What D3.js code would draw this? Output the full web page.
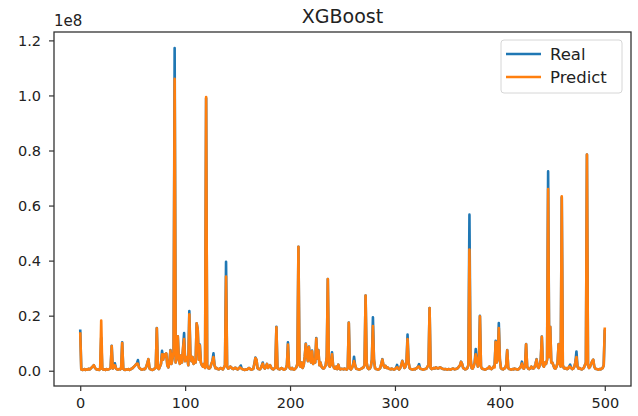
<!DOCTYPE html>
<html>
<head>
<meta charset="utf-8">
<script src="https://cdn.jsdelivr.net/npm/d3@7"></script>
<style>
  body { margin: 0; background: #fff; }
  text { font-family: "DejaVu Sans", sans-serif; fill: #222; }
</style>
</head>
<body>
<div id="chart"></div>
<script>
// values in units of 1e6, one per sample index 0..500
var real = [
  15, 0.5, 0.3, 0.4, 0.6, 0.3, 0.5, 0.4, 0.7, 0.5,
  0.8, 1.2, 1.6, 2.0, 1.1, 0.6, 0.4, 0.5, 0.3, 0.6,
  12, 0.8, 0.4, 0.5, 0.3, 0.6, 0.4, 0.5, 0.7, 1.0,
  9.1, 0.8, 1.5, 2.7, 0.9, 0.5, 0.4, 0.6, 0.5, 0.8,
  10.3, 0.7, 0.4, 0.3, 0.5, 0.4, 0.6, 0.3, 0.5, 0.8,
  1.0, 1.4, 1.8, 2.2, 2.6, 3.9, 1.2, 0.8, 0.5, 0.4,
  0.6, 0.5, 0.7, 1.5, 2.8, 4.2, 0.9, 0.5, 0.4, 0.3,
  0.5, 0.8, 1.2, 15.5, 1.0, 0.6, 1.5, 2.5, 7.2, 4.0,
  6.0, 5.2, 6.3, 2.0, 1.2, 3.0, 7.5, 2.5, 4.5, 7.0,
  117.2, 3.0, 6.0, 12.5, 4.0, 2.5, 5.5, 3.0, 8.0, 13.7,
  3.5, 4.5, 5.0, 2.0, 21.7, 6.0, 3.5, 5.0, 2.5, 4.0,
  3.0, 17.2, 15.0, 4.0, 9.5, 3.0, 2.0, 1.5, 2.5, 1.0,
  99.0, 2.0, 1.0, 0.8, 1.2, 2.5, 3.5, 6.3, 2.0, 0.9,
  1.0, 0.6, 0.5, 0.8, 1.0, 0.7, 0.5, 1.2, 2.0, 39.6,
  1.5, 0.8, 1.0, 1.5, 1.2, 0.8, 0.6, 0.9, 1.1, 0.7,
  0.5, 0.8, 1.2, 1.9, 0.7, 0.5, 0.4, 0.3, 0.5, 0.4,
  0.8, 1.0, 0.6, 0.4, 0.5, 0.7, 2.5, 4.8, 4.0, 1.0,
  0.6, 0.5, 0.8, 1.8, 3.0, 1.2, 0.8, 1.5, 2.5, 1.0,
  1.5, 2.0, 1.2, 0.6, 0.5, 0.8, 1.2, 16.0, 1.0, 0.6,
  0.5, 0.8, 1.0, 0.7, 0.4, 0.5, 0.8, 2.0, 10.3, 1.5,
  0.8, 0.6, 1.0, 0.5, 0.4, 0.8, 1.2, 2.5, 45.0, 2.0,
  1.5, 3.0, 1.0, 2.0, 5.0, 9.9, 6.0, 3.5, 8.8, 5.0,
  3.0, 7.3, 2.5, 4.0, 3.0, 11.9, 4.5, 7.5, 2.0, 3.0,
  1.5, 1.0, 0.8, 1.2, 2.0, 5.0, 33.3, 2.0, 1.5, 2.5,
  6.7, 2.0, 1.0, 0.8, 1.5, 0.6, 2.2, 0.8, 0.5, 0.7,
  0.6, 0.5, 0.8, 0.6, 0.4, 1.0, 17.5, 0.8, 0.5, 1.0,
  2.0, 5.1, 2.0, 0.8, 0.6, 0.5, 0.4, 0.6, 0.8, 1.0,
  1.2, 2.0, 27.3, 3.0, 1.0, 0.6, 0.8, 1.5, 4.0, 19.4,
  4.0, 1.0, 0.6, 0.5, 0.4, 0.6, 1.0, 2.5, 4.2, 2.0,
  1.2, 1.8, 1.0, 1.2, 0.8, 0.6, 0.5, 0.8, 0.6, 0.4,
  0.6, 1.0, 2.1, 0.8, 0.5, 1.0, 2.0, 3.6, 2.5, 1.0,
  1.5, 3.0, 13.1, 3.0, 1.0, 0.6, 0.5, 0.4, 0.6, 0.5,
  0.8, 1.0, 1.5, 2.4, 0.8, 0.6, 0.5, 0.4, 0.5, 0.6,
  0.8, 1.5, 2.0, 22.8, 1.0, 0.6, 0.8, 1.0, 0.8, 1.2,
  1.0, 0.8, 1.0, 1.2, 1.0, 0.8, 0.6, 0.5, 0.6, 0.5,
  0.4, 0.6, 0.5, 0.4, 0.6, 0.8, 0.7, 0.5, 0.6, 0.8,
  1.0, 1.5, 2.0, 3.3, 2.5, 1.0, 0.8, 0.5, 0.6, 1.0,
  2.0, 56.7, 5.0, 1.0, 0.8, 1.5, 3.0, 7.9, 4.0, 1.5,
  2.5, 20.0, 1.5, 0.8, 0.6, 0.5, 0.4, 0.6, 0.8, 1.0,
  1.5, 0.8, 0.6, 1.0, 1.5, 2.0, 10.9, 3.0, 5.0, 17.3,
  4.0, 1.0, 0.6, 0.5, 0.8, 1.0, 2.0, 7.5, 1.0, 0.6,
  0.5, 0.4, 0.6, 0.5, 0.8, 0.6, 0.5, 0.4, 0.6, 1.0,
  1.5, 3.3, 1.0, 0.8, 2.0, 9.7, 1.5, 0.8, 0.6, 0.8,
  1.5, 1.0, 0.8, 1.2, 2.5, 4.2, 1.5, 1.0, 2.0, 4.0,
  12.4, 2.0, 1.5, 3.0, 2.5, 4.0, 72.4, 5.0, 16.0, 3.0,
  3.0, 2.0, 1.0, 0.8, 1.5, 3.0, 9.7, 2.5, 1.5, 63.0,
  2.0, 1.0, 0.8, 1.0, 0.6, 0.8, 1.5, 2.2, 1.0, 0.6,
  0.8, 1.5, 3.0, 7.0, 1.5, 0.8, 1.0, 0.6, 0.5, 0.8,
  1.0, 2.0, 3.0, 78.5, 2.0, 1.0, 1.5, 2.5, 3.5, 4.0,
  1.5, 0.8, 0.6, 0.5, 0.4, 0.6, 0.5, 0.8, 1.0, 2.0,
  15.0
];

var predict = [
  14, 0.5, 0.3, 0.4, 0.6, 0.3, 0.5, 0.4, 0.7, 0.5,
  0.8, 1.2, 1.6, 2.0, 1.1, 0.6, 0.4, 0.5, 0.3, 0.6,
  18.2, 0.8, 0.4, 0.5, 0.3, 0.6, 0.4, 0.5, 0.7, 1.0,
  9.0, 0.8, 1.5, 2.0, 0.9, 0.5, 0.4, 0.6, 0.5, 0.8,
  10.1, 0.7, 0.4, 0.3, 0.5, 0.4, 0.6, 0.3, 0.5, 0.8,
  1.0, 1.4, 1.8, 2.2, 2.6, 2.5, 1.2, 0.8, 0.5, 0.4,
  0.6, 0.5, 0.7, 1.5, 2.8, 4.2, 0.9, 0.5, 0.4, 0.3,
  0.5, 0.8, 1.2, 15.4, 1.0, 0.6, 1.5, 2.5, 6.0, 4.0,
  6.0, 5.2, 6.3, 2.0, 1.2, 3.0, 7.3, 2.5, 4.5, 7.0,
  106.0, 3.0, 6.0, 12.5, 4.0, 2.5, 5.5, 3.0, 8.0, 11.5,
  3.5, 4.5, 5.0, 2.0, 20.5, 6.0, 3.5, 5.0, 2.5, 4.0,
  3.0, 17.2, 15.0, 4.0, 9.2, 3.0, 2.0, 1.5, 2.5, 1.0,
  99.4, 2.0, 1.0, 0.8, 1.2, 2.5, 3.5, 5.0, 2.0, 0.9,
  1.0, 0.6, 0.5, 0.8, 1.0, 0.7, 0.5, 1.2, 2.0, 34.2,
  1.5, 0.8, 1.0, 1.5, 1.2, 0.8, 0.6, 0.9, 1.1, 0.7,
  0.5, 0.8, 1.2, 1.0, 0.7, 0.5, 0.4, 0.3, 0.5, 0.4,
  0.8, 1.0, 0.6, 0.4, 0.5, 0.7, 2.5, 4.6, 4.0, 1.0,
  0.6, 0.5, 0.8, 1.8, 2.6, 1.2, 0.8, 1.5, 2.5, 1.0,
  1.5, 2.0, 1.2, 0.6, 0.5, 0.8, 1.2, 15.8, 1.0, 0.6,
  0.5, 0.8, 1.0, 0.7, 0.4, 0.5, 0.8, 2.0, 9.5, 1.5,
  0.8, 0.6, 1.0, 0.5, 0.4, 0.8, 1.2, 2.5, 45.0, 2.0,
  1.5, 3.0, 1.0, 2.0, 5.0, 9.7, 6.0, 3.5, 8.6, 5.0,
  3.0, 7.1, 2.5, 4.0, 3.0, 11.7, 4.5, 7.3, 2.0, 3.0,
  1.5, 1.0, 0.8, 1.2, 2.0, 5.0, 33.3, 2.0, 1.5, 2.5,
  6.0, 2.0, 1.0, 0.8, 1.5, 0.6, 2.2, 0.8, 0.5, 0.7,
  0.6, 0.5, 0.8, 0.6, 0.4, 1.0, 17.4, 0.8, 0.5, 1.0,
  2.0, 3.5, 2.0, 0.8, 0.6, 0.5, 0.4, 0.6, 0.8, 1.0,
  1.2, 2.0, 27.3, 3.0, 1.0, 0.6, 0.8, 1.5, 4.0, 16.2,
  4.0, 1.0, 0.6, 0.5, 0.4, 0.6, 1.0, 2.5, 4.1, 2.0,
  1.2, 1.8, 1.0, 1.2, 0.8, 0.6, 0.5, 0.8, 0.6, 0.4,
  0.6, 1.0, 1.3, 0.8, 0.5, 1.0, 2.0, 3.5, 2.5, 1.0,
  1.5, 3.0, 11.5, 3.0, 1.0, 0.6, 0.5, 0.4, 0.6, 0.5,
  0.8, 1.0, 1.5, 1.5, 0.8, 0.6, 0.5, 0.4, 0.5, 0.6,
  0.8, 1.5, 2.0, 22.8, 1.0, 0.6, 0.8, 1.0, 0.8, 1.2,
  1.0, 0.8, 1.0, 1.2, 1.0, 0.8, 0.6, 0.5, 0.6, 0.5,
  0.4, 0.6, 0.5, 0.4, 0.6, 0.8, 0.7, 0.5, 0.6, 0.8,
  1.0, 1.5, 2.0, 3.2, 2.5, 1.0, 0.8, 0.5, 0.6, 1.0,
  2.0, 44.0, 5.0, 1.0, 0.8, 1.5, 3.0, 6.0, 4.0, 1.5,
  2.5, 19.8, 1.5, 0.8, 0.6, 0.5, 0.4, 0.6, 0.8, 1.0,
  1.5, 0.8, 0.6, 1.0, 1.5, 1.2, 10.5, 3.0, 5.0, 15.5,
  4.0, 1.0, 0.6, 0.5, 0.8, 1.0, 2.0, 7.4, 1.0, 0.6,
  0.5, 0.4, 0.6, 0.5, 0.8, 0.6, 0.5, 0.4, 0.6, 1.0,
  1.5, 2.6, 1.0, 0.8, 2.0, 9.6, 1.5, 0.8, 0.6, 0.8,
  1.5, 1.0, 0.8, 1.2, 2.5, 4.1, 1.5, 1.0, 2.0, 4.0,
  12.3, 2.0, 1.5, 3.0, 2.5, 4.0, 66.0, 5.0, 16.0, 3.0,
  3.0, 2.0, 1.0, 0.8, 1.5, 3.0, 9.6, 2.5, 1.5, 63.4,
  2.0, 1.0, 0.8, 1.0, 0.6, 0.8, 1.5, 1.4, 1.0, 0.6,
  0.8, 1.5, 3.0, 5.0, 1.5, 0.8, 1.0, 0.6, 0.5, 0.8,
  1.0, 2.0, 3.0, 78.5, 2.0, 1.0, 1.5, 2.5, 3.5, 4.0,
  1.5, 0.8, 0.6, 0.5, 0.4, 0.6, 0.5, 0.8, 1.0, 2.0,
  15.7
];

var seriesNames = ["Real", "Predict"];
var seriesColors = ["#1f77b4", "#ff7f0e"];
var xTicks = [0, 100, 200, 300, 400, 500];
var yTicks = [0, 20, 40, 60, 80, 100, 120];   // in 1e6, shown as 1e8 multiples
var chartTitle = "XGBoost";

function init() {
  var w = 638, h = 416;
  var left = 54, right = 631, top = 32, bottom = 386;

  var svg = d3.select("#chart").append("svg")
    .attr("width", w).attr("height", h);

  // matplotlib-like 5% margins
  var n = real.length - 1;
  var all = real.concat(predict);
  var yMin = d3.min(all), yMax = d3.max(all);
  var yPad = (yMax - yMin) * 0.05;

  var x = d3.scaleLinear().domain([-n * 0.05, n * 1.05]).range([left, right]);
  var y = d3.scaleLinear().domain([yMin - yPad, yMax + yPad]).range([bottom, top]);

  svg.append("clipPath").attr("id", "clip")
    .append("rect").attr("x", left).attr("y", top)
    .attr("width", right - left).attr("height", bottom - top);

  var line = d3.line()
    .x(function(d, i) { return x(i); })
    .y(function(d) { return y(d); });

  var plot = svg.append("g").attr("clip-path", "url(#clip)");
  [real, predict].forEach(function(s, k) {
    plot.append("path")
      .datum(s)
      .attr("fill", "none")
      .attr("stroke", seriesColors[k])
      .attr("stroke-width", 2.6)
      .attr("stroke-linejoin", "round")
      .attr("d", line);
  });

  // axes
  var xAxis = d3.axisBottom(x).tickValues(xTicks).tickSize(5).tickPadding(7)
    .tickFormat(d3.format("d"));
  var yAxis = d3.axisLeft(y).tickValues(yTicks).tickSize(5).tickPadding(8)
    .tickFormat(function(d) { return (d / 100).toFixed(1); });

  var gx = svg.append("g").attr("transform", "translate(0," + bottom + ")").call(xAxis);
  var gy = svg.append("g").attr("transform", "translate(" + left + ",0)").call(yAxis);
  [gx, gy].forEach(function(g) {
    g.select(".domain").remove();
    g.selectAll("line").attr("stroke", "#333").attr("stroke-width", 1.2);
    g.selectAll("text").attr("font-family", "DejaVu Sans").attr("font-size", 14.5).attr("fill", "#333");
  });

  // frame
  svg.append("rect")
    .attr("x", left).attr("y", top)
    .attr("width", right - left).attr("height", bottom - top)
    .attr("fill", "none").attr("stroke", "#333").attr("stroke-width", 1.3);

  // offset label and title
  svg.append("text").attr("x", left).attr("y", 26)
    .attr("font-size", 15).attr("fill", "#333").text("1e8");
  svg.append("text").attr("x", (left + right) / 2).attr("y", 23)
    .attr("text-anchor", "middle").attr("font-size", 19).attr("fill", "#222")
    .text(chartTitle);

  // legend
  var lg = svg.append("g");
  lg.append("rect")
    .attr("x", 501).attr("y", 40).attr("width", 121).attr("height", 53)
    .attr("rx", 3).attr("fill", "#fff").attr("fill-opacity", 0.8)
    .attr("stroke", "#d6d6d6");
  seriesNames.forEach(function(name, i) {
    var yy = 54 + i * 23;
    lg.append("line")
      .attr("x1", 506).attr("x2", 541).attr("y1", yy).attr("y2", yy)
      .attr("stroke", seriesColors[i]).attr("stroke-width", 2.6);
    lg.append("text")
      .attr("x", 550).attr("y", yy + 6)
      .attr("font-size", 16.5).attr("fill", "#222")
      .text(name);
  });
}

window.onload = init;
</script>
</body>
</html>
